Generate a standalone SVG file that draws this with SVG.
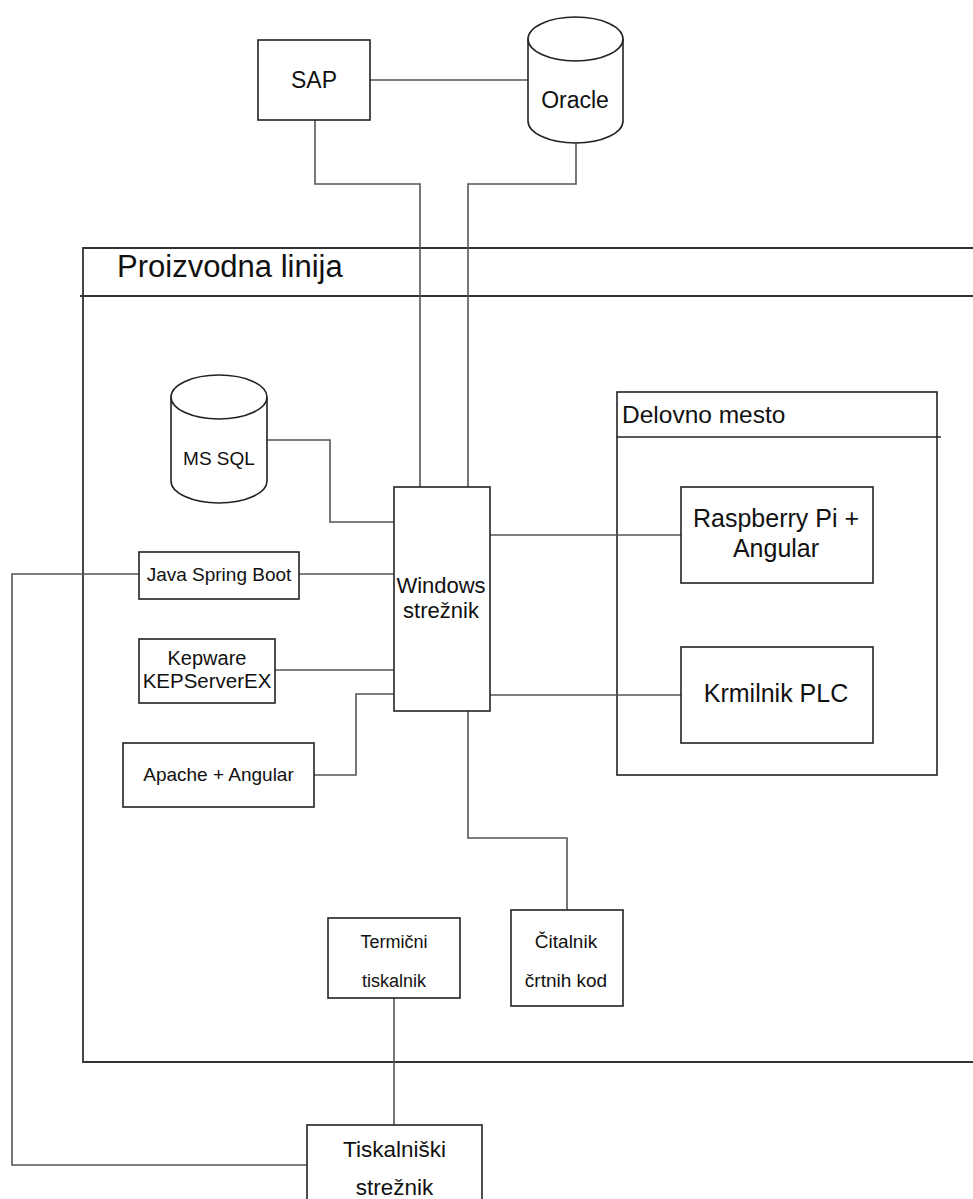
<svg xmlns="http://www.w3.org/2000/svg" width="973" height="1199" viewBox="0 0 973 1199">
<style>
  .box{fill:#fff;stroke:#222;stroke-width:1.6}
  .cont{fill:none;stroke:#333;stroke-width:1.8}
  .conn{fill:none;stroke:#555;stroke-width:1.6}
  text{font-family:"Liberation Sans",Arial,sans-serif;fill:#111}
  .c{text-anchor:middle}
</style>
<rect width="973" height="1199" fill="#fff"/>

<g id="proizvodna-linija">
  <path class="cont" d="M990,248 H83 V1062 H990"/>
  <line class="cont" x1="80" y1="296" x2="990" y2="296"/>
  <text x="117" y="277" font-size="31">Proizvodna linija</text>
</g>

<g id="delovno-mesto">
  <rect class="box" x="617" y="392" width="320" height="383" fill="none" style="fill:none"/>
  <line class="box" x1="617" y1="437" x2="941" y2="437"/>
  <text x="622" y="423" font-size="24.5">Delovno mesto</text>
</g>

<g id="connectors">
  <path class="conn" d="M370,80 H528"/>
  <path class="conn" d="M315,120 V184 H420 V487"/>
  <path class="conn" d="M576,143 V184 H468 V487"/>
  <path class="conn" d="M267,440 H330 V522 H394"/>
  <path class="conn" d="M299,574 H394"/>
  <path class="conn" d="M139,574 H12 V1165 H307"/>
  <path class="conn" d="M275,670 H394"/>
  <path class="conn" d="M314,775 H356 V694 H394"/>
  <path class="conn" d="M490,535 H681"/>
  <path class="conn" d="M490,695 H681"/>
  <path class="conn" d="M468,711 V838 H567 V910"/>
  <path class="conn" d="M394,998 V1125"/>
</g>

<g id="sap">
  <rect class="box" x="258" y="40" width="112" height="80"/>
  <text class="c" x="314" y="88" font-size="23">SAP</text>
</g>

<g id="oracle">
  <path class="box" d="M528,39 A47.5,22 0 0 1 623,39 V121 A47.5,22 0 0 1 528,121 Z"/>
  <path class="box" style="fill:none" d="M528,39 A47.5,22 0 0 0 623,39"/>
  <text class="c" x="575" y="108" font-size="23">Oracle</text>
</g>

<g id="ms-sql">
  <path class="box" d="M171,397 A48,22 0 0 1 267,397 V481 A48,22 0 0 1 171,481 Z"/>
  <path class="box" style="fill:none" d="M171,397 A48,22 0 0 0 267,397"/>
  <text class="c" x="219" y="465" font-size="19">MS SQL</text>
</g>

<g id="windows-streznik">
  <rect class="box" x="394" y="487" width="96" height="224"/>
  <text class="c" x="441" y="593" font-size="22">Windows</text>
  <text class="c" x="441" y="618" font-size="22">strežnik</text>
</g>

<g id="java-spring-boot">
  <rect class="box" x="139" y="552" width="160" height="47"/>
  <text class="c" x="219" y="581" font-size="19">Java Spring Boot</text>
</g>

<g id="kepware">
  <rect class="box" x="139" y="639" width="136" height="64"/>
  <text class="c" x="207" y="665" font-size="20">Kepware</text>
  <text class="c" x="207" y="688" font-size="20.5">KEPServerEX</text>
</g>

<g id="apache-angular">
  <rect class="box" x="123" y="743" width="191" height="64"/>
  <text class="c" x="218.5" y="781" font-size="19">Apache + Angular</text>
</g>

<g id="raspberry-pi">
  <rect class="box" x="681" y="487" width="192" height="96"/>
  <text class="c" x="776" y="527" font-size="25">Raspberry Pi +</text>
  <text class="c" x="776" y="557" font-size="25">Angular</text>
</g>

<g id="krmilnik-plc">
  <rect class="box" x="681" y="647" width="192" height="96"/>
  <text class="c" x="776" y="702" font-size="25">Krmilnik PLC</text>
</g>

<g id="termicni-tiskalnik">
  <rect class="box" x="328" y="918" width="132" height="80"/>
  <text class="c" x="394" y="948" font-size="18">Termični</text>
  <text class="c" x="394" y="987" font-size="18">tiskalnik</text>
</g>

<g id="citalnik">
  <rect class="box" x="511" y="910" width="112" height="96"/>
  <text class="c" x="566" y="948" font-size="19">Čitalnik</text>
  <text class="c" x="566" y="987" font-size="19">črtnih kod</text>
</g>

<g id="tiskalniski-streznik">
  <rect class="box" x="307" y="1125" width="175" height="95"/>
  <text class="c" x="394.5" y="1157" font-size="22.5">Tiskalniški</text>
  <text class="c" x="394.5" y="1195" font-size="22.5">strežnik</text>
</g>
</svg>
